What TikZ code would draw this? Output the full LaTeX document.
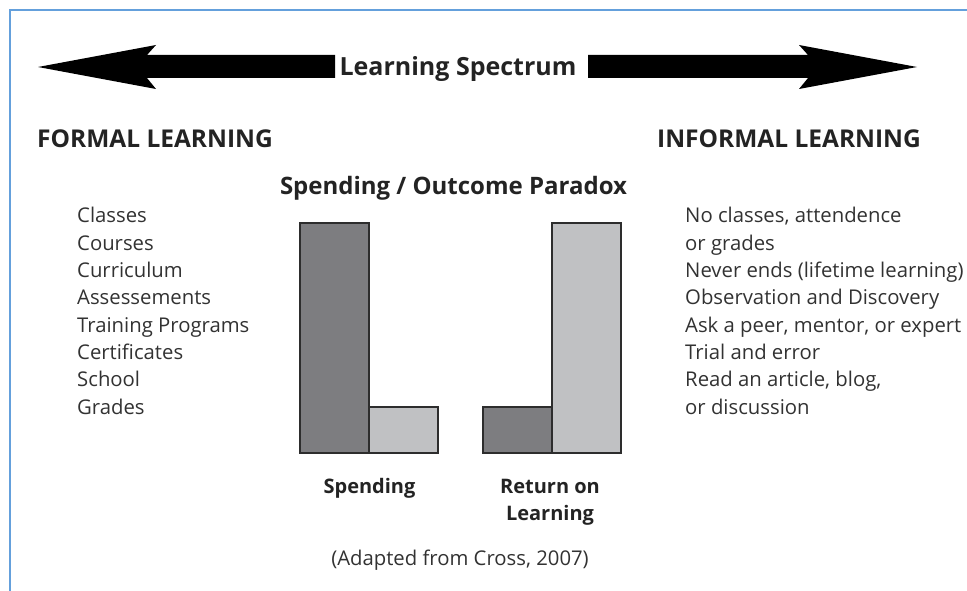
\documentclass[tikz,border=0pt]{standalone}
\usepackage{fontspec}
\setmainfont{Open Sans}
\definecolor{frameblue}{RGB}{100,160,220}
\definecolor{txt}{RGB}{35,35,35}
\definecolor{listtxt}{RGB}{50,50,50}
\definecolor{darkbar}{RGB}{125,125,128}
\definecolor{lightbar}{RGB}{192,193,195}
\definecolor{barline}{RGB}{45,45,45}
\tikzset{
  head/.style={inner sep=0pt, text=txt, font=\bfseries\fontsize{24.5}{28}\selectfont},
  listbox/.style={inner sep=0pt, text=listtxt, align=left, font=\fontsize{20.3}{27.3}\selectfont},
  barlabel/.style={inner sep=0pt, text=txt, font=\bfseries\fontsize{20}{27}\selectfont},
  bar/.style={draw=barline, line width=1.8pt},
}
\begin{document}
\begin{tikzpicture}[x=1pt,y=-1pt]
\useasboundingbox (0,0) rectangle (967,591);
% frame lines
\draw[frameblue, line width=2pt] (10,591) -- (10,10) -- (967,10);
% spectrum arrows
\fill[black] (38,67) -- (156,45) -- (147,55) -- (335,55) -- (335,78) -- (147,78) -- (156,89) -- cycle;
\fill[black] (917,67) -- (799,45) -- (808,55) -- (588,55) -- (588,78) -- (808,78) -- (799,89) -- cycle;
\node[head, font=\bfseries\fontsize{25}{28}\selectfont, anchor=base] (spec) at (458,76) {Learning Spectrum};
% headings
\node[head, anchor=base west] (formal) at (37,148) {FORMAL LEARNING};
\node[head, anchor=base west] (informal) at (657,148) {INFORMAL LEARNING};
% lists (base anchor = baseline of last line)
\node[listbox, anchor=base west] (flist) at (77,414) {Classes\\Courses\\Curriculum\\Assessements\\Training Programs\\Certificates\\School\\Grades};
\node[listbox, anchor=base west] (ilist) at (685,414) {No classes, attendence\\or grades\\Never ends (lifetime learning)\\Observation and Discovery\\Ask a peer, mentor, or expert\\Trial and error\\Read an article, blog,\\or discussion};
% chart
\node[barlabel, font=\bfseries\fontsize{24}{28}\selectfont, anchor=base] (title) at (453.5,194) {Spending / Outcome Paradox};
\draw[bar, fill=darkbar] (300,223) rectangle (369,453);
\draw[bar, fill=lightbar] (369,407) rectangle (438,453);
\draw[bar, fill=darkbar] (483,407) rectangle (552,453);
\draw[bar, fill=lightbar] (552,223) rectangle (621,453);
\node[barlabel, anchor=base] (spend) at (369.5,493) {Spending};
\node[barlabel, anchor=base, align=center] (ret) at (550,520) {Return on\\Learning};
\node[listbox, anchor=base] (src) at (460,565) {(Adapted from Cross, 2007)};
\end{tikzpicture}
\end{document}
